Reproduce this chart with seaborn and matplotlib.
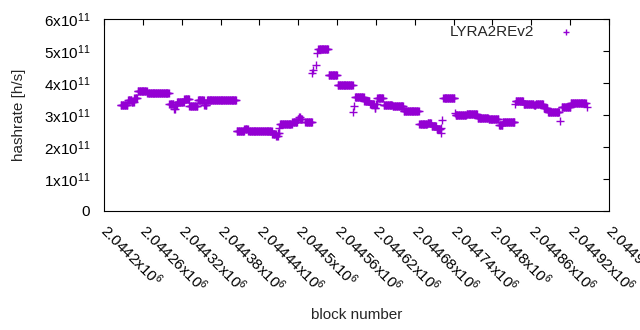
import numpy as np
import matplotlib
matplotlib.use("Agg")
import matplotlib.pyplot as plt
import matplotlib.transforms as mtransforms
import seaborn as sns

# -----------------------------
# Data: runs of blocks with the same hashrate
# -----------------------------
run_start = [2044226, 2044237, 2044243, 2044247, 2044252, 2044267, 2044301, 2044308,
             2044310, 2044313, 2044324, 2044332, 2044345, 2044355, 2044359, 2044405,
             2044417, 2044423, 2044460, 2044466, 2044469, 2044471, 2044472, 2044491,
             2044499, 2044501, 2044503, 2044511, 2044522, 2044523, 2044527, 2044529,
             2044531, 2044547, 2044561, 2044585, 2044586, 2044588, 2044602, 2044611,
             2044618, 2044620, 2044622, 2044632, 2044646, 2044663, 2044687, 2044700,
             2044706, 2044714, 2044720, 2044721, 2044722, 2044724, 2044742, 2044743,
             2044760, 2044777, 2044794, 2044810, 2044816, 2044835, 2044836, 2044848,
             2044864, 2044867, 2044879, 2044886, 2044905, 2044907, 2044921, 2044946]
run_end = [2044236, 2044242, 2044246, 2044251, 2044266, 2044300, 2044307, 2044309,
           2044312, 2044323, 2044331, 2044344, 2044354, 2044358, 2044404, 2044416,
           2044422, 2044459, 2044465, 2044468, 2044470, 2044471, 2044490, 2044498,
           2044500, 2044502, 2044506, 2044521, 2044522, 2044523, 2044527, 2044529,
           2044546, 2044560, 2044584, 2044585, 2044586, 2044601, 2044610, 2044617,
           2044619, 2044621, 2044631, 2044645, 2044662, 2044686, 2044699, 2044705,
           2044713, 2044719, 2044720, 2044721, 2044722, 2044741, 2044742, 2044759,
           2044776, 2044793, 2044809, 2044815, 2044834, 2044835, 2044847, 2044863,
           2044866, 2044878, 2044885, 2044903, 2044905, 2044920, 2044944, 2044946]
run_value = [3.30, 3.48, 3.42, 3.52, 3.74, 3.68, 3.33, 3.20,
             3.31, 3.42, 3.50, 3.29, 3.46, 3.31, 3.46, 2.49,
             2.56, 2.51, 2.42, 2.35, 2.45, 2.60, 2.71, 2.78,
             2.87, 2.95, 2.86, 2.77, 4.32, 4.40, 4.56, 4.94,
             5.05, 4.24, 3.93, 3.08, 3.27, 3.55, 3.45, 3.34,
             3.22, 3.34, 3.52, 3.32, 3.28, 3.11, 2.71, 2.74,
             2.67, 2.55, 2.45, 2.60, 2.85, 3.52, 3.05, 3.00,
             3.03, 2.92, 2.89, 2.69, 2.77, 3.35, 3.45, 3.34,
             3.30, 3.35, 3.21, 3.10, 2.80, 3.26, 3.37, 3.26]  # x 10^11 h/s

xtick_pos = [2044200, 2044260, 2044320, 2044380, 2044440, 2044500, 2044560,
             2044620, 2044680, 2044740, 2044800, 2044860, 2044920, 2044980]
xtick_mant = ["2.0442", "2.04426", "2.04432", "2.04438", "2.04444", "2.0445", "2.04456",
              "2.04462", "2.04468", "2.04474", "2.0448", "2.04486", "2.04492", "2.04498"]
ytick_pos = [0, 1e11, 2e11, 3e11, 4e11, 5e11, 6e11]
ytick_mant = ["0", "1", "2", "3", "4", "5", "6"]

blocks = np.concatenate([np.arange(s, e + 1) for s, e in zip(run_start, run_end)])
rates = np.concatenate([np.full(e - s + 1, v) for s, e, v in zip(run_start, run_end, run_value)]) * 1e11

# -----------------------------
# Style (gnuplot look)
# -----------------------------
sns.set_style("white")
plt.rcParams["font.family"] = ["Liberation Sans", "DejaVu Sans"]
plt.rcParams["mathtext.fontset"] = "custom"
plt.rcParams["mathtext.rm"] = "Liberation Sans"
plt.rcParams["font.size"] = 11

fig = plt.figure(figsize=(6.4, 3.3), dpi=100)
ax = fig.add_axes([104 / 640, 1 - 211 / 330, 505 / 640, 192 / 330])

sns.scatterplot(
    x=blocks,
    y=rates,
    marker="+",
    s=30,
    color="#9400D3",
    linewidth=1.0,
    label="LYRA2REv2",
    ax=ax
)

ax.set_xlim(2044200, 2044980)
ax.set_ylim(0, 6e11)

ax.set_xticks(xtick_pos)
ax.set_xticklabels([r"$\mathregular{%sx10^{6}}$" % m for m in xtick_mant],
                   rotation=-45, ha="left", va="center", rotation_mode="anchor")
shift = mtransforms.ScaledTranslation(3 / 100, 0, fig.dpi_scale_trans)
for lab in ax.get_xticklabels():
    lab.set_transform(lab.get_transform() + shift)
ax.set_yticks(ytick_pos)
ax.set_yticklabels(["0"] + [r"$\mathregular{%sx10^{11}}$" % m for m in ytick_mant[1:]])

ax.tick_params(direction="in", length=4, width=0.8, top=True, right=True,
               labelsize=11, colors="black")
ax.tick_params(axis="x", pad=11.5)
ax.tick_params(axis="y", pad=10)
for sp in ax.spines.values():
    sp.set_color("black")
    sp.set_linewidth(0.8)

ax.set_xlabel("block number", fontsize=11, labelpad=9.5)
ax.set_ylabel("hashrate [h/s]", fontsize=11, labelpad=13)

ax.legend(loc="upper right", bbox_to_anchor=(0.958, 1.0), frameon=False,
          markerfirst=False, handlelength=2.0, handletextpad=1.1,
          borderaxespad=0, fontsize=11, markerscale=0.85)

plt.savefig("out.png", dpi=100)
